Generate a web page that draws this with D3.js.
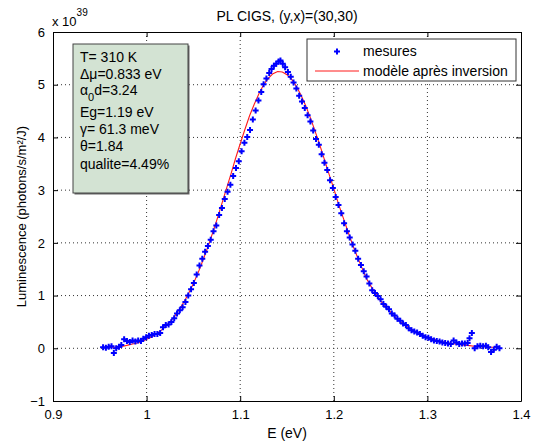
<!DOCTYPE html>
<html>
<head>
<meta charset="utf-8">
<script src="https://cdn.jsdelivr.net/npm/d3@7"></script>
<style>
  body { margin: 0; background: #fff; }
  text { font-family: "Liberation Sans", Arial, sans-serif; fill: #000; }
</style>
</head>
<body>
<div id="chart"></div>
<script>
// measured spectrum (E in eV, luminescence in 1e39 photons/s/m2/J)
var measE = [0.9535,0.9565,0.9595,0.9625,0.9650,0.9675,0.9705,0.9730,0.9760,0.9790,0.9820,0.9850,0.9880,0.9910,0.9940,0.9965,0.9995,
  1.0025,1.0055,1.0085,1.0115,1.0145,1.0175,1.0205,1.0235,1.0265,1.0295,1.0325,1.0355,1.0385,1.0415,1.0445,1.0475,1.0505,1.0535,1.0565,
  1.0595,1.0625,1.0655,1.0685,1.0715,1.0745,1.0775,1.0805,1.0835,1.0865,1.0895,1.0925,1.0955,1.0985,1.1015,1.1045,1.1075,1.1105,1.1135,
  1.1165,1.1195,1.1225,1.1250,1.1280,1.1310,1.1335,1.1360,1.1385,1.1410,1.1430,1.1455,1.1480,1.1510,1.1540,1.1570,1.1600,1.1630,1.1660,
  1.1690,1.1720,1.1750,1.1780,1.1810,1.1840,1.1870,1.1900,1.1930,1.1960,1.1990,1.2020,1.2050,1.2080,1.2110,1.2140,1.2170,1.2200,1.2230,
  1.2260,1.2290,1.2320,1.2350,1.2380,1.2410,1.2440,1.2470,1.2500,1.2530,1.2560,1.2590,1.2620,1.2650,1.2680,1.2710,1.2740,1.2770,1.2800,
  1.2830,1.2860,1.2890,1.2920,1.2950,1.2980,1.3010,1.3040,1.3070,1.3100,1.3130,1.3160,1.3190,1.3220,1.3250,1.3280,1.3310,1.3340,1.3370,
  1.3400,1.3430,1.3450,1.3475,1.3505,1.3535,1.3565,1.3595,1.3625,1.3650,1.3680,1.3710,1.3740,1.3770];
var measL = [0.02,0.01,0.03,0.04,-0.09,0.00,0.03,0.06,0.17,0.14,0.12,0.15,0.13,0.15,0.14,0.18,0.21,
  0.24,0.25,0.27,0.27,0.29,0.40,0.44,0.45,0.50,0.57,0.66,0.72,0.78,0.88,1.00,1.12,1.24,1.40,1.57,
  1.70,1.83,1.94,2.06,2.22,2.33,2.53,2.66,2.83,2.97,3.10,3.27,3.42,3.55,3.74,3.90,4.01,4.14,4.34,
  4.51,4.70,4.86,5.01,5.12,5.22,5.30,5.36,5.40,5.44,5.46,5.40,5.33,5.24,5.15,5.04,4.93,4.79,4.68,
  4.56,4.42,4.30,4.13,3.97,3.86,3.68,3.52,3.38,3.19,3.04,2.87,2.72,2.56,2.37,2.22,2.10,1.97,1.85,
  1.70,1.58,1.46,1.36,1.23,1.10,1.05,0.99,0.93,0.84,0.79,0.74,0.66,0.62,0.56,0.52,0.47,0.44,0.38,
  0.34,0.32,0.30,0.27,0.24,0.21,0.20,0.17,0.15,0.14,0.13,0.11,0.10,0.09,0.08,0.15,0.11,0.08,0.09,
  0.09,0.10,0.19,0.29,0.00,0.04,0.05,0.04,0.05,0.02,-0.07,-0.03,0.03,0.00];

// fitted model
var modelE = [0.955,0.960,0.965,0.970,0.975,0.980,0.985,0.990,0.995,1.000,1.005,1.010,1.015,1.020,1.025,1.030,1.035,1.040,1.045,1.050,
  1.055,1.060,1.065,1.070,1.075,1.080,1.085,1.090,1.095,1.100,1.105,1.110,1.115,1.120,1.125,1.130,1.135,1.140,1.145,1.150,
  1.155,1.160,1.165,1.170,1.175,1.180,1.185,1.190,1.195,1.200,1.205,1.210,1.215,1.220,1.225,1.230,1.235,1.240,1.245,1.250,
  1.255,1.260,1.265,1.270,1.275,1.280,1.285,1.290,1.295,1.300,1.305,1.310,1.315,1.320,1.325,1.330,1.335,1.340,1.345,1.350,
  1.355,1.360,1.365,1.370,1.375];
var modelL = [0.01,0.02,0.02,0.03,0.04,0.06,0.08,0.10,0.13,0.17,0.21,0.27,0.33,0.41,0.50,0.61,0.74,0.88,1.05,1.23,
  1.43,1.66,1.90,2.16,2.43,2.72,3.01,3.30,3.60,3.88,4.15,4.41,4.63,4.83,5.00,5.12,5.21,5.25,5.24,5.19,
  5.10,4.97,4.80,4.60,4.37,4.12,3.86,3.58,3.30,3.03,2.74,2.48,2.22,1.97,1.74,1.53,1.32,1.17,1.03,0.90,
  0.80,0.70,0.60,0.52,0.45,0.39,0.34,0.29,0.25,0.21,0.18,0.15,0.13,0.11,0.09,0.08,0.07,0.06,0.05,0.04,
  0.03,0.03,0.02,0.02,0.02];

var xTicks = [0.9, 1, 1.1, 1.2, 1.3, 1.4];
var yTicks = [-1, 0, 1, 2, 3, 4, 5, 6];
var infoLines = ["T= 310 K", "Δμ=0.833 eV", "α|0|d=3.24", "Eg=1.19 eV", "γ= 61.3 meV", "θ=1.84", "qualite=4.49%"];
var legendNames = ["mesures", "modèle après inversion"];

var W = 537, H = 443;
var margin = {top: 32, right: 16, bottom: 42, left: 53},
    width = W - margin.left - margin.right,
    height = H - margin.top - margin.bottom;

var svg = d3.select("#chart").append("svg")
  .attr("width", W)
  .attr("height", H);

var g = svg.append("g")
  .attr("transform", "translate(" + margin.left + "," + margin.top + ")");

var x = d3.scaleLinear().domain([0.9, 1.4]).range([0, width]);
var y = d3.scaleLinear().domain([-1, 6]).range([height, 0]);

// dotted grid
g.append("g").selectAll("line").data(xTicks.slice(1, -1)).enter().append("line")
  .attr("x1", d => x(d)).attr("x2", d => x(d))
  .attr("y1", 0).attr("y2", height)
  .attr("stroke", "#333").attr("stroke-dasharray", "1,3");
g.append("g").selectAll("line").data(yTicks.slice(1, -1)).enter().append("line")
  .attr("y1", d => y(d)).attr("y2", d => y(d))
  .attr("x1", 0).attr("x2", width)
  .attr("stroke", "#333").attr("stroke-dasharray", "1,3");

// axes (ticks inward, box all round)
var fs = "13px";
g.append("g").attr("transform", "translate(0," + height + ")")
  .call(d3.axisBottom(x).tickValues(xTicks).tickSizeInner(-5).tickSizeOuter(0).tickPadding(9).tickFormat(d3.format("~g")));
g.append("g")
  .call(d3.axisLeft(y).tickValues(yTicks).tickSizeInner(-5).tickSizeOuter(0).tickPadding(8).tickFormat(d3.format("~g")));
g.append("g")
  .call(d3.axisTop(x).tickValues(xTicks).tickSizeInner(-5).tickSizeOuter(0).tickFormat(""));
g.append("g").attr("transform", "translate(" + width + ",0)")
  .call(d3.axisRight(y).tickValues(yTicks).tickSizeInner(-5).tickSizeOuter(0).tickFormat(""));
g.selectAll(".tick text").style("font-size", fs).style("font-family", "Liberation Sans, Arial, sans-serif");
g.selectAll(".domain, .tick line").attr("stroke", "#000");

// model line
var line = d3.line()
  .x((d, i) => x(modelE[i]))
  .y(d => y(d));
g.append("path")
  .datum(modelL)
  .attr("fill", "none")
  .attr("stroke", "#ff1a1a")
  .attr("stroke-width", 1.1)
  .attr("d", line);

// measured points
var sym = d3.symbol().type(d3.symbolCross).size(20);
g.append("g").selectAll("path").data(measL).enter().append("path")
  .attr("d", sym)
  .attr("fill", "#0000ff")
  .attr("transform", (d, i) => "translate(" + x(measE[i]) + "," + y(d) + ")");

// info box
var box = svg.append("g").attr("transform", "translate(73,44)");
box.append("rect").attr("x", 1.5).attr("y", 1.5).attr("width", 115).attr("height", 149).attr("fill", "#666");
box.append("rect").attr("width", 115).attr("height", 149)
  .attr("fill", "#d3e3d3").attr("stroke", "#444").attr("stroke-width", 1);
var lineY = [18, 35, 51, 73, 90, 107, 125];
infoLines.forEach(function(s, i) {
  var t = box.append("text").attr("x", 7).attr("y", lineY[i]).style("font-size", "14px");
  var parts = s.split("|");
  if (parts.length === 3) {
    t.append("tspan").text(parts[0]);
    t.append("tspan").attr("dy", 6).style("font-size", "11px").text(parts[1]);
    t.append("tspan").attr("dy", -6).text(parts[2]);
  } else {
    t.text(s);
  }
});

// legend
var leg = svg.append("g").attr("transform", "translate(307,39)");
leg.append("rect").attr("width", 209).attr("height", 42)
  .attr("fill", "#fff").attr("stroke", "#333").attr("stroke-width", 1);
leg.append("path").attr("d", sym).attr("fill", "#0000ff")
  .attr("transform", "translate(30,12.5)");
leg.append("line").attr("x1", 8).attr("x2", 52).attr("y1", 32).attr("y2", 32)
  .attr("stroke", "#ff1a1a");
leg.append("text").attr("x", 56).attr("y", 17).style("font-size", "14px").text(legendNames[0]);
leg.append("text").attr("x", 56).attr("y", 37).style("font-size", "14px").text(legendNames[1]);

// title, labels, exponent
svg.append("text").attr("x", margin.left + width / 2).attr("y", 21)
  .attr("text-anchor", "middle").style("font-size", "14px").text("PL CIGS, (y,x)=(30,30)");
svg.append("text").attr("x", margin.left + width / 2).attr("y", 438)
  .attr("text-anchor", "middle").style("font-size", "14px").text("E (eV)");
svg.append("text")
  .attr("transform", "translate(26," + (margin.top + height / 2) + ") rotate(-90)")
  .attr("text-anchor", "middle").style("font-size", "13px").text("Luminescence (photons/s/m²/J)");
var ex = svg.append("text").attr("x", 52).attr("y", 26).style("font-size", "13px");
ex.append("tspan").text("x 10");
ex.append("tspan").attr("dy", -10).style("font-size", "10px").text("39");
</script>
</body>
</html>
